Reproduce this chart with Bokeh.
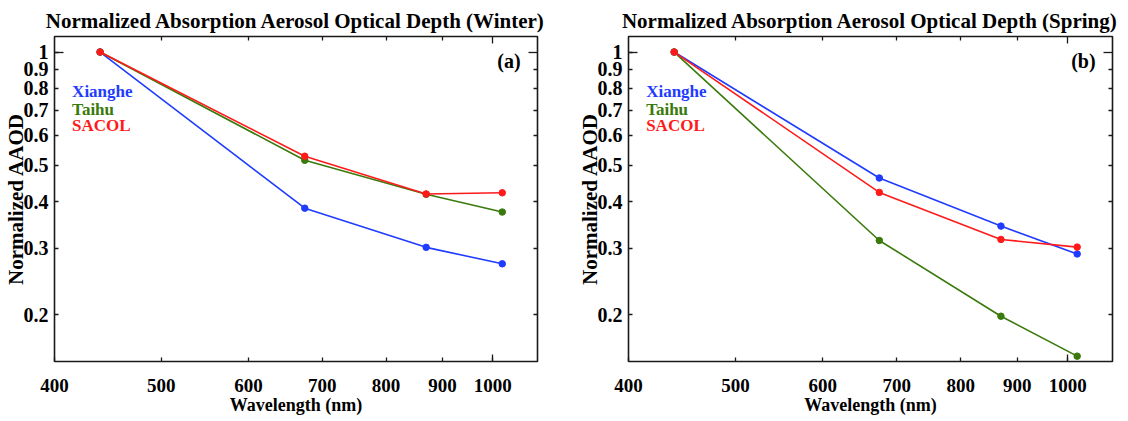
from bokeh.plotting import figure
from bokeh.layouts import row
from bokeh.models import (FixedTicker, LogAxis, CustomJSTickFormatter, Label, Range1d)
from bokeh.embed import file_html
from bokeh.resources import INLINE

# ---------------- data ----------------
wavelength = [440, 675, 870, 1020]
sites = ["Xianghe", "Taihu", "SACOL"]
winter_xianghe = [1.0, 0.384, 0.302, 0.273]
winter_taihu = [1.0, 0.515, 0.418, 0.375]
winter_sacol = [1.0, 0.528, 0.419, 0.422]
spring_xianghe = [1.0, 0.462, 0.344, 0.290]
spring_taihu = [1.0, 0.315, 0.198, 0.155]
spring_sacol = [1.0, 0.423, 0.317, 0.3025]
x_ticks = [400, 500, 600, 700, 800, 900, 1000]
y_ticks = [0.2, 0.3, 0.4, 0.5, 0.6, 0.7, 0.8, 0.9, 1.0]
titles = ["Normalized Absorption Aerosol Optical Depth (Winter)",
          "Normalized Absorption Aerosol Optical Depth (Spring)"]
tags = ["(a)", "(b)"]
x_label = "Wavelength (nm)"
y_label = "Normalized AAOD"

colors = ["#1f3cff", "#3a7a0c", "#ff1a1a"]
FONT = "Liberation Serif"
FRAME = "#1a1a1a"
FRAME_W = 484


def make_panel(title_text, series, tag, bl, br):
    p = figure(width=bl + FRAME_W + br, height=421,
               x_axis_type="log", y_axis_type="log",
               x_range=Range1d(400, 1098), y_range=Range1d(0.150, 1.10),
               output_backend="svg", toolbar_location=None,
               min_border_left=bl, min_border_right=br,
               min_border_top=36, min_border_bottom=60,
               title=title_text)
    p.grid.visible = False
    p.outline_line_color = FRAME
    p.outline_line_width = 1.6
    p.background_fill_color = "white"
    p.border_fill_color = "white"

    p.title.align = "center"
    p.title.text_font = FONT
    p.title.text_font_style = "bold"
    p.title.text_font_size = "21px"
    p.title.text_color = "black"
    p.title.standoff = 7

    # bottom axis
    xa = p.xaxis[0]
    xa.ticker = FixedTicker(ticks=x_ticks, minor_ticks=[1000])
    xa.formatter = CustomJSTickFormatter(code="return Math.round(tick).toString()")
    xa.axis_line_color = None
    xa.major_tick_in = 4
    xa.major_tick_out = 0
    xa.minor_tick_in = 7
    xa.minor_tick_out = 0
    xa.major_tick_line_color = FRAME
    xa.minor_tick_line_color = FRAME
    xa.major_tick_line_width = 1.3
    xa.minor_tick_line_width = 1.3
    xa.major_label_text_font = FONT
    xa.major_label_text_font_style = "bold"
    xa.major_label_text_font_size = "19px"
    xa.major_label_text_color = "black"
    xa.major_label_standoff = 17
    xa.axis_label = x_label
    xa.axis_label_text_font = FONT
    xa.axis_label_text_font_style = "bold"
    xa.axis_label_text_font_size = "18px"
    xa.axis_label_text_color = "black"
    xa.axis_label_standoff = 0

    # left axis
    ya = p.yaxis[0]
    ya.ticker = FixedTicker(ticks=y_ticks, minor_ticks=[1.0])
    ya.formatter = CustomJSTickFormatter(code="return (Math.round(tick*10)/10).toString()")
    ya.axis_line_color = None
    ya.major_tick_in = 4
    ya.major_tick_out = 0
    ya.minor_tick_in = 9
    ya.minor_tick_out = 0
    ya.major_tick_line_color = FRAME
    ya.minor_tick_line_color = FRAME
    ya.major_tick_line_width = 1.3
    ya.minor_tick_line_width = 1.3
    ya.major_label_text_font = FONT
    ya.major_label_text_font_style = "bold"
    ya.major_label_text_font_size = "20px"
    ya.major_label_text_color = "black"
    ya.major_label_standoff = 6
    ya.axis_label = y_label
    ya.axis_label_text_font = FONT
    ya.axis_label_text_font_style = "bold"
    ya.axis_label_text_font_size = "21px"
    ya.axis_label_text_color = "black"
    ya.axis_label_standoff = -7

    # mirrored axes (ticks only)
    top = LogAxis(ticker=FixedTicker(ticks=[1000], minor_ticks=[500, 600, 700, 800, 900]),
                  axis_line_color=None, major_tick_in=7, major_tick_out=0,
                  minor_tick_in=4, minor_tick_out=0,
                  major_tick_line_color=FRAME, minor_tick_line_color=FRAME,
                  major_tick_line_width=1.3, minor_tick_line_width=1.3,
                  major_label_text_font_size="1px", major_label_text_alpha=0,
                  major_label_standoff=0)
    p.add_layout(top, "above")
    right = LogAxis(ticker=FixedTicker(ticks=[1.0], minor_ticks=y_ticks[:-1]),
                    axis_line_color=None, major_tick_in=9, major_tick_out=0,
                    minor_tick_in=4, minor_tick_out=0,
                    major_tick_line_color=FRAME, minor_tick_line_color=FRAME,
                    major_tick_line_width=1.3, minor_tick_line_width=1.3,
                    major_label_text_font_size="1px", major_label_text_alpha=0,
                    major_label_standoff=0)
    p.add_layout(right, "right")

    for vals, c in zip(series, colors):
        p.line(wavelength, vals, line_color=c, line_width=1.6)
        p.scatter(wavelength, vals, size=6.5, fill_color=c, line_color=c)

    for i, (name, c) in enumerate(zip(sites, colors)):
        p.add_layout(Label(x=415, y=[0.783, 0.704, 0.636][i], text=name,
                           text_font=FONT, text_font_style="bold",
                           text_font_size="17px", text_color=c,
                           text_baseline="middle", text_align="left"))
    p.add_layout(Label(x=1060, y=0.945, text=tag, text_font=FONT,
                       text_font_style="bold", text_font_size="20px",
                       text_color="black", text_baseline="middle",
                       text_align="right"))
    return p


p1 = make_panel(titles[0], [winter_xianghe, winter_taihu, winter_sacol], tags[0], 53, 27)
p2 = make_panel(titles[1], [spring_xianghe, spring_taihu, spring_sacol], tags[1], 64, 16)

layout = row(p1, p2, spacing=0)
open("out.html", "w").write(file_html(layout, INLINE))
